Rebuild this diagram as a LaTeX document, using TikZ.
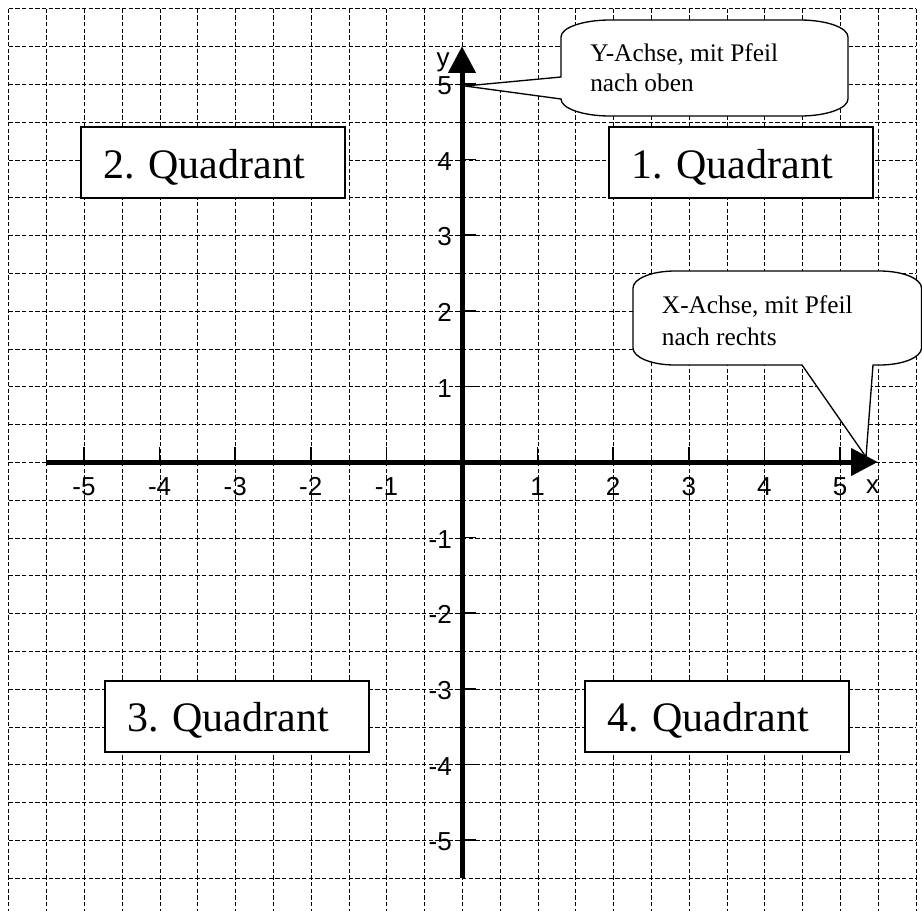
\documentclass[tikz,border=0pt]{standalone}
\usepackage{fontspec}
\setmainfont{Liberation Serif}
\newfontfamily\axisfont{Liberation Sans}
\usetikzlibrary{arrows.meta}
\begin{document}
\frenchspacing
\begin{tikzpicture}[x=0.75pt,y=-0.75pt,
  gridline/.style={line width=1.1pt, dash pattern=on 3.3pt off 1.7pt},
  axisline/.style={line width=3.75pt, -{Triangle[length=20pt,width=20pt]}},
  tickmark/.style={line width=1.2pt},
  ticklabel/.style={font=\axisfont\fontsize{19.5}{22}\selectfont, inner sep=0pt},
  qbox/.style={draw, fill=white, line width=1.2pt, outer sep=0pt,
    font=\fontsize{31.5}{36}\selectfont, inner ysep=0pt, inner xsep=16.5pt,
    text width=165pt, align=left, text height=38.25pt, text depth=15pt, anchor=base west},
  callout/.style={draw, fill=white, line width=1pt},
  ctext/.style={align=left, inner sep=0pt, anchor=base west}
]
\useasboundingbox (0,0) rectangle (922,911);
\begin{scope}
\clip (0,0) rectangle (922,911);
\foreach \k in {-12,...,12} {
  \pgfmathsetmacro{\p}{round(462+\k*37.8)+0.5}
  \draw[gridline] (\p,8.5) -- (\p,930);
  \draw[gridline] (8.5,\p) -- (915.5,\p);
}
\end{scope}
% axes
\coordinate (xstart) at (46.2,462);
\coordinate (xend) at (877.8,462);
\coordinate (ystart) at (462,877.8);
\coordinate (yend) at (462,46.2);
\draw[axisline] (xstart) -- (xend);
\draw[axisline] (ystart) -- (yend);
% ticks and labels
\foreach \k in {-5,-4,-3,-2,-1,1,2,3,4,5} {
  \coordinate (xt\k) at ({462+\k*75.6},462);
  \draw[tickmark] (xt\k) -- ++(0,-15);
  \node[ticklabel, anchor=base] (xl\k) at ({462+\k*75.6},495) {\k};
  \coordinate (yt\k) at (462,{462-\k*75.6});
  \draw[tickmark] (yt\k) -- ++(14,0);
  \node[ticklabel, anchor=base east] (yl\k) at (452,{462-\k*75.6+10.7}) {\k};
}
\node[ticklabel, anchor=base east] (ylabel) at (450,66) {y};
\node[ticklabel, anchor=base] (xlabel) at (872.5,493) {x};
% quadrant boxes
\node[qbox] (q1) at (609,178) {1. Quadrant};
\node[qbox] (q2) at (81,178) {2. Quadrant};
\node[qbox] (q3) at (105,731.7) {3. Quadrant};
\node[qbox] (q4) at (585,731.7) {4. Quadrant};
% callouts
\coordinate (ytip) at (465,86);
\coordinate (xtip) at (866,457);
\draw[callout] (610,20) -- (800,20)
  arc[start angle=270, end angle=360, x radius=48, y radius=17] -- (848,99)
  arc[start angle=0, end angle=90, x radius=48, y radius=17] -- (610,116)
  arc[start angle=90, end angle=180, x radius=49, y radius=17] -- (ytip) -- (561,77) -- (561,37)
  arc[start angle=180, end angle=270, x radius=49, y radius=17] -- cycle;
\node[ctext, font=\fontsize{19}{22.5}\selectfont] (ytext) at (590,91.7) {Y-Achse, mit Pfeil\\nach oben};
\draw[callout] (675,271) -- (879.5,271)
  arc[start angle=270, end angle=360, x radius=42, y radius=17] -- (921.5,348)
  arc[start angle=0, end angle=90, x radius=42, y radius=17] -- (873,365) -- (xtip) -- (802,365) -- (675,365)
  arc[start angle=90, end angle=180, x radius=42, y radius=17] -- (633,288)
  arc[start angle=180, end angle=270, x radius=42, y radius=17] -- cycle;
\node[ctext, font=\fontsize{19}{24}\selectfont] (xtext) at (661.7,345) {X-Achse, mit Pfeil\\nach rechts};
\end{tikzpicture}
\end{document}
